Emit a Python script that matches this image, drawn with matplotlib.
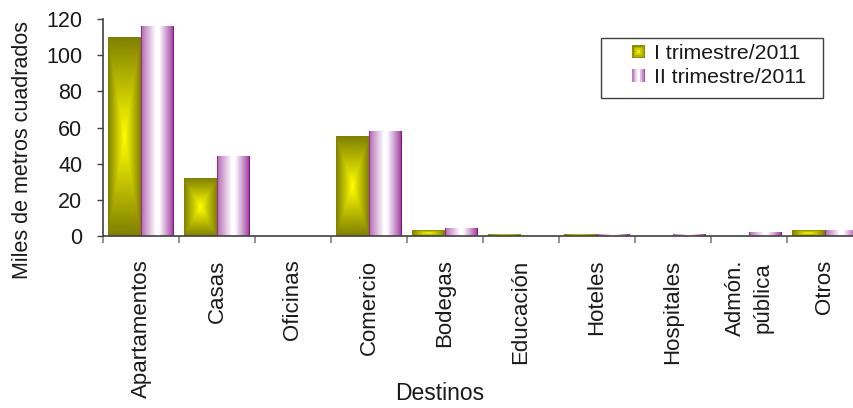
import numpy as np
import matplotlib
matplotlib.use("Agg")
import matplotlib.pyplot as plt
from matplotlib.patches import Rectangle
from matplotlib.legend_handler import HandlerBase

# ---- data -------------------------------------------------------------
categories = ["Apartamentos", "Casas", "Oficinas", "Comercio", "Bodegas",
              "Educación", "Hoteles", "Hospitales", "Admón.\npública", "Otros"]
series_names = ["I trimestre/2011", "II trimestre/2011"]
q1_2011 = [109.5, 32.0, 0.0, 54.8, 3.3, 1.1, 1.1, 0.0, 0.0, 3.3]
q2_2011 = [116.0, 43.7, 0.0, 58.0, 4.4, 0.0, 1.0, 1.0, 2.2, 3.3]
y_ticks = [0, 20, 40, 60, 80, 100, 120]

plt.rcParams["font.family"] = ["Liberation Sans", "DejaVu Sans"]

OLIVE = np.array([0x80, 0x80, 0x00]) / 255.0
YELLOW = np.array([0xFF, 0xFF, 0x00]) / 255.0
PURPLE = np.array([0x80, 0x00, 0x80]) / 255.0
WHITE = np.array([1.0, 1.0, 1.0])
TEXT = "#1a1a1a"
AXIS = "#404040"
W, H = 854, 408


def rect_gradient(n=96):
    """Yellow centre fading to olive at the border (rectangular path gradient)."""
    u = np.linspace(-1, 1, n)
    uu, vv = np.meshgrid(u, u)
    t = np.maximum(np.abs(uu), np.abs(vv))[..., None]
    return YELLOW * (1 - t) + OLIVE * t


def stripe_gradient(n=96):
    """Purple edges with a white band just left of centre (horizontal gradient)."""
    xs = np.linspace(0, 1, n)
    kx = [0.0, 0.03, 0.45, 0.55, 0.96, 1.0]
    ky = [1.0, 0.55, 0.0, 0.0, 0.7, 1.0]
    f = np.interp(xs, kx, ky)[None, :, None]
    row = WHITE * (1 - f) + PURPLE * f
    return np.repeat(row, 4, axis=0)


GRADIENTS = [rect_gradient(), stripe_gradient()]


def paint(ax, patches, img):
    for p in patches:
        h = p.get_height()
        if h <= 0:
            continue
        x0 = p.get_x()
        ax.imshow(img, extent=(x0, x0 + p.get_width(), 0, h), origin="lower",
                  aspect="auto", interpolation="bilinear", zorder=2)


class GradientHandler(HandlerBase):
    def __init__(self, img):
        super().__init__()
        self.img = img

    def create_artists(self, legend, orig_handle, xdescent, ydescent,
                       width, height, fontsize, trans):
        side = min(width, height)
        x0 = -xdescent + (width - side) / 2
        y0 = -ydescent + (height - side) / 2
        n = 8
        artists = []
        img = self.img
        for i in range(n):
            for j in range(n):
                c = img[int((j + 0.5) / n * img.shape[0]),
                        int((i + 0.5) / n * img.shape[1])]
                r = Rectangle((x0 + i * side / n, y0 + j * side / n),
                              side / n, side / n, facecolor=c, edgecolor="none",
                              transform=trans)
                artists.append(r)
        return artists


fig = plt.figure(figsize=(W / 100, H / 100), dpi=100)
ax = fig.add_axes([103 / W, 1 - 236 / H, 760 / W, 217 / H])

x = np.arange(len(categories))
w = 0.43
b1 = ax.bar(x - 0.215, q1_2011, w, color="none", edgecolor="none")
b2 = ax.bar(x + 0.215, q2_2011, w, color="none", edgecolor="none")
paint(ax, b1, GRADIENTS[0])
paint(ax, b2, GRADIENTS[1])

ax.set_xlim(-0.5, len(categories) - 0.5)
ax.set_ylim(0, 120)

# y axis
ax.set_yticks(y_ticks)
ax.set_yticklabels([str(v) for v in y_ticks])
ax.tick_params(axis="y", direction="out", length=4.3, width=1, color=AXIS,
               labelsize=15.5, labelcolor=TEXT, pad=10.5)

# x axis: tick marks between categories, labels at centres
ax.set_xticks(np.arange(len(categories) + 1) - 0.5)
ax.set_xticklabels([])
ax.tick_params(axis="x", which="major", direction="out", length=5, width=1.2,
               color="#808080")
ax.set_xticks(x, minor=True)
ax.set_xticklabels(categories, minor=True, rotation=90, va="top",
                   ha="center", linespacing=1.4)
ax.tick_params(axis="x", which="minor", length=0, labelsize=16,
               labelcolor=TEXT, pad=17)

for s in ("top", "right"):
    ax.spines[s].set_visible(False)
for s in ("left", "bottom"):
    ax.spines[s].set_color(AXIS)
    ax.spines[s].set_linewidth(1.2)

fig.text(23 / W, 1 - 150 / H, "Miles de metros cuadrados", rotation=90,
         ha="center", va="center", fontsize=15.5, color=TEXT)
fig.text(440 / W, 1 - 393 / H, "Destinos", ha="center", va="center",
         fontsize=16.5, color=TEXT)

# legend: entries without frame, the box drawn separately
h1 = Rectangle((0, 0), 1, 1)
h2 = Rectangle((0, 0), 1, 1)
leg = ax.legend([h1, h2], series_names,
                handler_map={h1: GradientHandler(GRADIENTS[0]),
                             h2: GradientHandler(GRADIENTS[1])},
                loc="center left", bbox_to_anchor=(632 / W, 1 - 65.5 / H),
                bbox_transform=fig.transFigure,
                fontsize=15.3, frameon=False, borderpad=0,
                handlelength=0.62, handleheight=0.6, handletextpad=0.42,
                labelspacing=0.22, borderaxespad=0)
for t in leg.get_texts():
    t.set_color(TEXT)
fig.add_artist(Rectangle((601 / W, 1 - 98 / H), 222 / W, 60 / H,
                         transform=fig.transFigure, fill=False,
                         edgecolor=AXIS, linewidth=1.0))

fig.savefig("out.png", dpi=100)
